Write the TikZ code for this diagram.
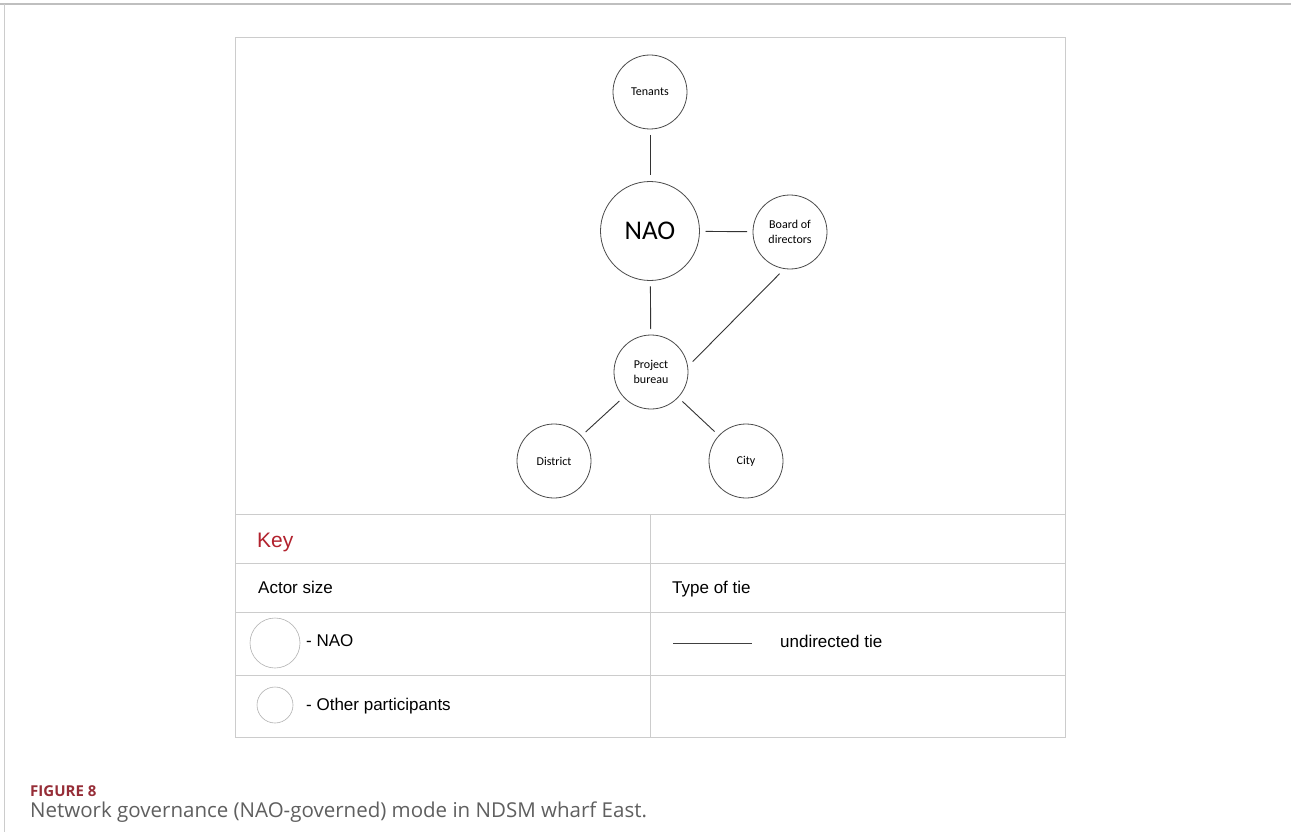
\documentclass[tikz,border=0pt]{standalone}
\usepackage{fontspec}
\setmainfont{Liberation Sans}
\newfontfamily\calibri{Carlito}
\newfontfamily\capfont{Open Sans}
\usetikzlibrary{positioning}
\definecolor{keyred}{RGB}{178,34,46}
\definecolor{rulegray}{RGB}{204,204,204}
\definecolor{capgray}{RGB}{95,95,95}
\definecolor{figred}{RGB}{150,45,55}

\begin{document}
\begin{tikzpicture}[
  x=1pt,y=-1pt,
  actor/.style={draw=black!70,line width=0.8pt,circle,inner sep=0pt,outer sep=6pt,
    minimum size=74pt,align=center,font=\calibri\fontsize{12}{14.5}\selectfont},
  nao/.style={actor,minimum size=99pt,font=\calibri\fontsize{27}{30}\selectfont},
  keycirc/.style={draw=black!30,line width=0.6pt,circle,inner sep=0pt},
  tie/.style={black!80,line width=0.9pt},
  rule/.style={rulegray,line width=1pt},
  keytext/.style={anchor=base west,inner sep=0pt,font=\fontsize{17}{20}\selectfont}
]
\useasboundingbox (0,0) rectangle (1291,832);
\fill[white] (0,0) rectangle (1291,832);
% page frame
\draw[black!25,line width=1.5pt] (0,4) -- (1291,4);
\draw[black!20,line width=1pt] (4,4) -- (4,832);

% actors
\node[nao] (nao) at (650,231) {NAO};
\node[actor] (tenants) at (650,92) {Tenants};
\node[actor] (board) at (790,232) {Board of\\directors};
\node[actor] (bureau) at (651,372) {Project\\bureau};
\node[actor] (district) at (554,461) {District};
\node[actor] (city) at (746,461) {City};

\draw[tie] (tenants) -- (nao);
\draw[tie] (nao) -- (board);
\draw[tie] (nao) -- (bureau);
\draw[tie] (board.256) -- (bureau.14);
\draw[tie] (bureau) -- (district);
\draw[tie] (bureau) -- (city);

% key table
\draw[rule] (235,38) rectangle (1065,737);
\draw[rule] (235,514) -- (1065,514);
\draw[rule] (235,563) -- (1065,563);
\draw[rule] (235,612) -- (1065,612);
\draw[rule] (235,675) -- (1065,675);
\draw[rule] (650,514) -- (650,737);

\node[keytext,text=keyred,font=\fontsize{21}{24}\selectfont] (key) at (257,547) {Key};
\node[keytext] (size) at (258,593) {Actor size};
\node[keytext] (type) at (672,593) {Type of tie};
\node[keycirc,minimum size=50pt] (bigc) at (275,643) {};
\node[keytext] (naolbl) at (306,646) {- NAO};
\node[keycirc,minimum size=36pt] (smallc) at (275,705) {};
\node[keytext] (otherlbl) at (306,710) {- Other participants};
\coordinate (tiea) at (673,643);
\coordinate (tieb) at (752,643);
\draw[tie,black!75] (tiea) -- (tieb);
\node[keytext] (tielbl) at (780,647) {undirected tie};

% caption
\node[anchor=base west,inner sep=0pt,text=figred,font=\capfont\bfseries\fontsize{15}{17}\selectfont] (fig) at (30,796) {FIGURE 8};
\node[anchor=base west,inner sep=0pt,text=capgray,font=\capfont\fontsize{20.5}{23}\selectfont] (cap) at (30,817)
  {Network governance (NAO-governed) mode in NDSM wharf East.};
\end{tikzpicture}
\end{document}
